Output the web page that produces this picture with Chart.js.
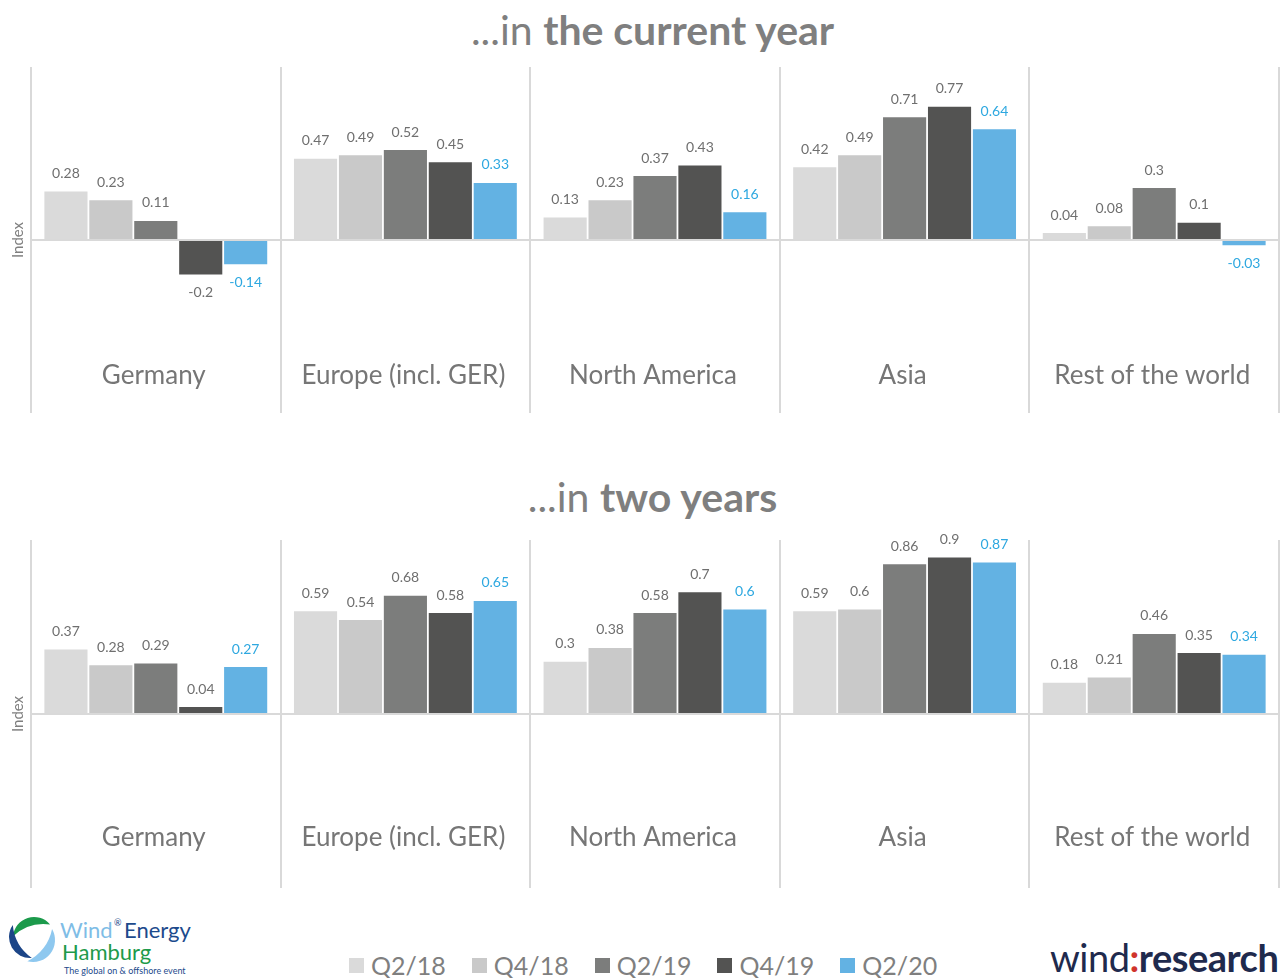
<!DOCTYPE html>
<html>
<head>
<meta charset="utf-8">
<script src="https://cdn.jsdelivr.net/npm/chart.js@4.4.1/dist/chart.umd.min.js"></script>
<style>
  body { margin: 0; background: #fff; font-family: Lato, sans-serif; }
  #page { position: relative; width: 1286px; height: 978px; overflow: hidden; }
  .title { position: absolute; left: 0; width: 1305px; text-align: center; font-size: 41px; color: #7f7f7f; line-height: 1; }
  .title b { font-weight: 700; }
  .box { position: absolute; left: 0; width: 1286px; }
  #legend { position: absolute; left: 349px; top: 950px; display: flex; align-items: center; font-size: 25px; color: #7f7f7f; }
  #legend span.sq { display: inline-block; width: 15px; height: 15px; margin-right: 7px; }
  #legend span.tx { margin-right: 26px; }
  #weh { position: absolute; left: 6px; top: 910px; width: 200px; height: 68px; }
  #wr { position: absolute; left: 1050px; top: 934px; font-size: 38px; color: #1f2a4d; letter-spacing: -0.5px; }
</style>
</head>
<body>
<div id="page">
  <div class="title" style="top:9px">...in <b>the current year</b></div>
  <div class="box" style="top:60px;height:360px"><canvas id="chartNow"></canvas></div>
  <div class="title" style="top:476px">...in <b>two years</b></div>
  <div class="box" style="top:530px;height:370px"><canvas id="chartTwo"></canvas></div>
  <div id="legend"></div>

  <svg id="weh" viewBox="0 0 200 68">
    <g id="swirl"></g>
    <text x="54" y="28" font-family="Lato" font-size="22" fill="#7fbde6">Wind</text>
    <text x="108" y="16" font-family="Lato" font-size="9" fill="#1d4a8c">®</text>
    <text x="118" y="28" font-family="Lato" font-size="22" fill="#1d4a8c">Energy</text>
    <text x="56" y="50" font-family="Lato" font-size="22" fill="#1e9a4b">Hamburg</text>
    <text x="58" y="64" font-family="Lato" font-size="9" fill="#1d4a8c">The global on &amp; offshore event</text>
  </svg>
  <div id="wr">wind<span style="color:#d0342c;font-weight:700">:</span><b>research</b></div>
</div>

<script>
const regions = ['Germany', 'Europe (incl. GER)', 'North America', 'Asia', 'Rest of the world'];
const periods = ['Q2/18', 'Q4/18', 'Q2/19', 'Q4/19', 'Q2/20'];
const barColors = ['#dadada', '#c9c9c9', '#7c7d7c', '#535352', '#63b2e3'];
const labelColors = ['#6f6f6f', '#6f6f6f', '#6f6f6f', '#6f6f6f', '#2ea8e0'];

// ...in the current year
const nowQ218 = [0.28, 0.47, 0.13, 0.42, 0.04];
const nowQ418 = [0.23, 0.49, 0.23, 0.49, 0.08];
const nowQ219 = [0.11, 0.52, 0.37, 0.71, 0.3];
const nowQ419 = [-0.2, 0.45, 0.43, 0.77, 0.1];
const nowQ220 = [-0.14, 0.33, 0.16, 0.64, -0.03];

// ...in two years
const twoQ218 = [0.37, 0.59, 0.3, 0.59, 0.18];
const twoQ418 = [0.28, 0.54, 0.38, 0.6, 0.21];
const twoQ219 = [0.29, 0.68, 0.58, 0.86, 0.46];
const twoQ419 = [0.04, 0.58, 0.7, 0.9, 0.35];
const twoQ220 = [0.27, 0.65, 0.6, 0.87, 0.34];

const yTicks = [-1, 0, 1];

// value labels above / below each bar
const valueLabels = {
    id: 'valueLabels',
    afterDatasetsDraw(chart) {
        const ctx = chart.ctx;
        ctx.save();
        ctx.font = '14px Lato';
        ctx.textAlign = 'center';
        ctx.textBaseline = 'middle';
        chart.data.datasets.forEach((ds, i) => {
            chart.getDatasetMeta(i).data.forEach((bar, j) => {
                const v = ds.data[j];
                ctx.fillStyle = labelColors[i];
                ctx.fillText(String(v), bar.x, v >= 0 ? bar.y - 18 : bar.y + 18);
            });
        });
        ctx.restore();
    }
};

// region names drawn low inside the plot
const categoryLabels = {
    id: 'categoryLabels',
    afterDraw(chart, args, opts) {
        const ctx = chart.ctx;
        const x = chart.scales.x;
        ctx.save();
        ctx.font = '26px Lato';
        ctx.fillStyle = '#767676';
        ctx.textAlign = 'center';
        ctx.textBaseline = 'middle';
        chart.data.labels.forEach((l, j) => {
            ctx.fillText(l, x.getPixelForValue(j) - 2, chart.chartArea.bottom - opts.offset);
        });
        ctx.restore();
    }
};

function makeChart(id, series, pad, offset) {
    const ctx = document.getElementById(id).getContext('2d');
    return new Chart(ctx, {
        type: 'bar',
        data: {
            labels: regions,
            datasets: series.map((d, i) => ({
                label: periods[i],
                data: d,
                backgroundColor: barColors[i],
                borderWidth: 0,
                categoryPercentage: 0.9,
                barPercentage: 0.96
            }))
        },
        options: {
            responsive: true,
            maintainAspectRatio: false,
            animation: false,
            layout: { padding: { top: pad[0], right: 7, bottom: pad[1], left: 0 } },
            scales: {
                x: {
                    grid: { offset: true, color: '#d9d9d9', lineWidth: 2, drawTicks: false },
                    border: { display: false },
                    ticks: { display: false },
                    afterFit: (axis) => { axis.height = 0; }
                },
                y: {
                    min: yTicks[0],
                    max: yTicks[2],
                    afterBuildTicks: (axis) => { axis.ticks = yTicks.map(v => ({ value: v })); },
                    grid: {
                        drawTicks: false,
                        lineWidth: 2,
                        color: (c) => c.tick && c.tick.value === 0 ? '#d9d9d9' : 'rgba(0,0,0,0)'
                    },
                    border: { display: false },
                    ticks: { display: false },
                    title: {
                        display: true,
                        text: 'Index',
                        color: '#7f7f7f',
                        font: { family: 'Lato', size: 15 },
                        padding: { top: 9, bottom: 0 }
                    },
                    afterFit: (axis) => { axis.width = 31; }
                }
            },
            plugins: {
                legend: { display: false },
                tooltip: { enabled: false },
                categoryLabels: { offset: offset }
            }
        },
        plugins: [valueLabels, categoryLabels]
    });
}

// logo swirl: three crescents, each circle nudged off centre
function crescent(cx, cy, r, a1, a2, R, color) {
    const rad = Math.PI / 180;
    const p1 = [cx + r * Math.cos(a1 * rad), cy + r * Math.sin(a1 * rad)];
    const p2 = [cx + r * Math.cos(a2 * rad), cy + r * Math.sin(a2 * rad)];
    return '<path fill="' + color + '" d="M' + p1[0] + ' ' + p1[1] + ' A' + r + ' ' + r + ' 0 0 1 ' + p2[0] + ' ' + p2[1] +
        ' A' + R + ' ' + R + ' 0 0 0 ' + p1[0] + ' ' + p1[1] + 'Z"/>';
}
document.getElementById('swirl').innerHTML =
    crescent(28, 28, 21, -175, -40, 45, '#1b9a4b') +
    crescent(24, 27, 21, 85, 215, 45, '#1c4587') +
    crescent(27, 30, 22, -30, 105, 45, '#8ec8ef');

document.fonts.load('14px Lato').then(() => document.fonts.load('bold 14px Lato')).finally(() => {
    makeChart('chartNow', [nowQ218, nowQ418, nowQ219, nowQ419, nowQ220], [7, 7], 37);
    makeChart('chartTwo', [twoQ218, twoQ418, twoQ219, twoQ419, twoQ220], [10, 12], 50);

    const legend = document.getElementById('legend');
    periods.forEach((p, i) => {
        legend.insertAdjacentHTML('beforeend',
            '<span class="sq" style="background:' + barColors[i] + '"></span><span class="tx">' + p + '</span>');
    });
});
</script>
</body>
</html>
